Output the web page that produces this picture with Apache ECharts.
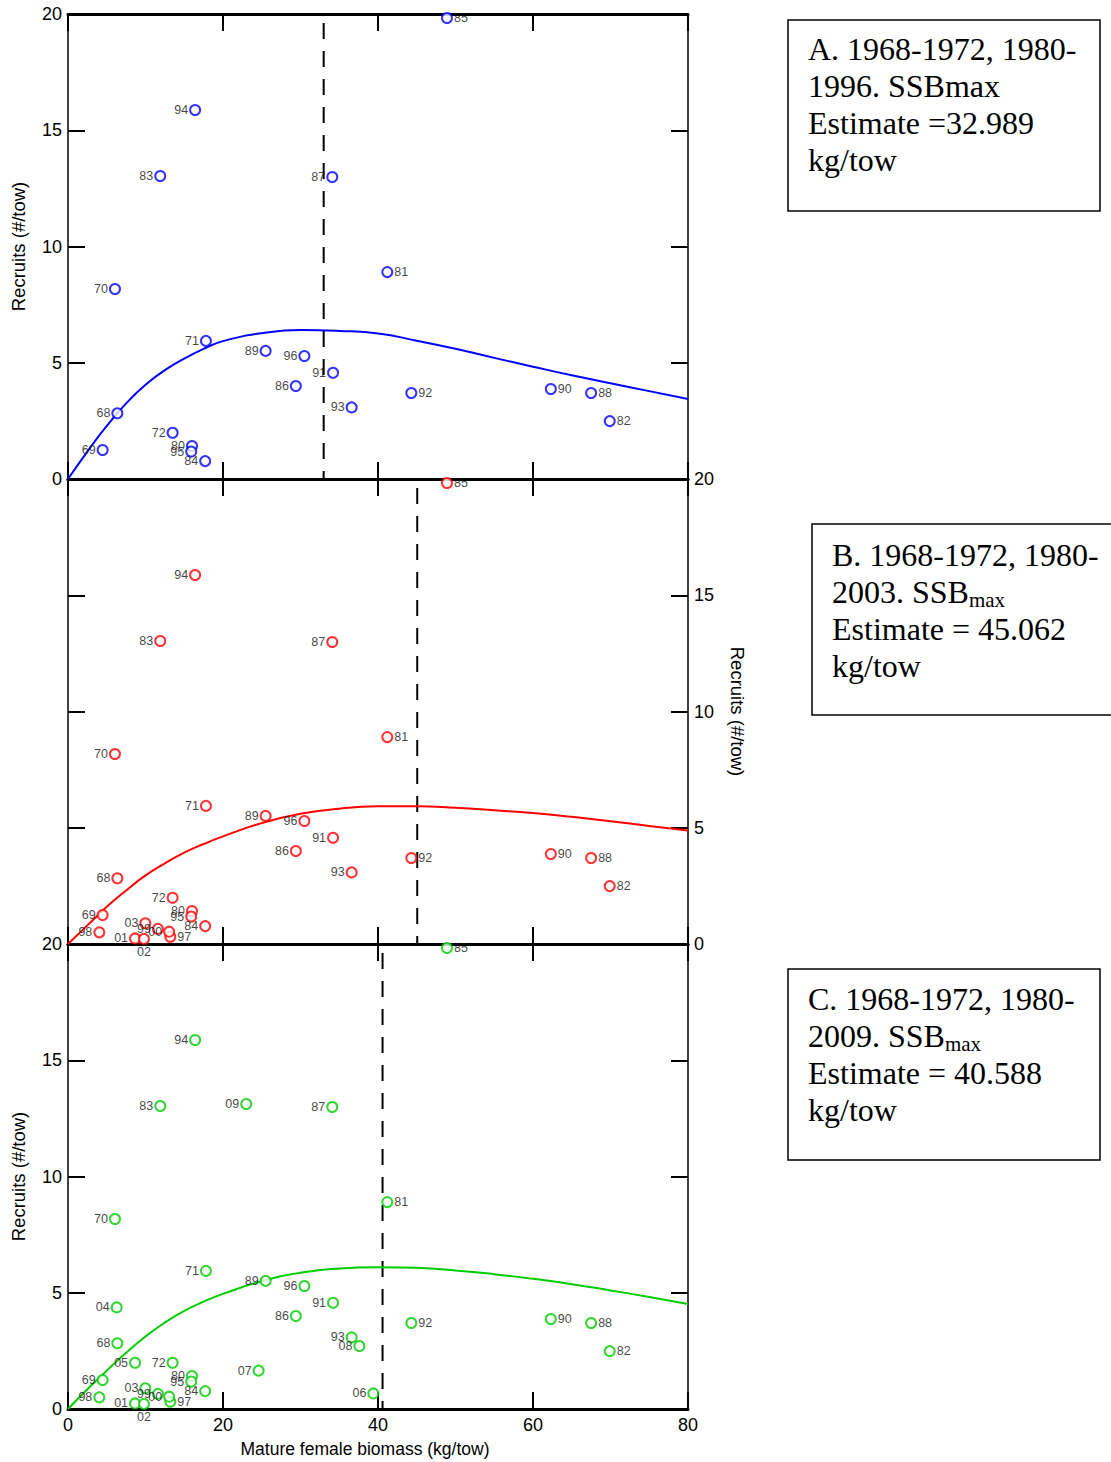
<!DOCTYPE html>
<html><head><meta charset="utf-8">
<script src="https://cdn.jsdelivr.net/npm/echarts@6/dist/echarts.min.js"></script>
<style>html,body{margin:0;padding:0;background:#fff}#c{width:1111px;height:1462px}</style>
</head><body><div id="c"></div>
<script>
// ---- data ----
const years = ['68','69','70','71','72','80','81','82','83','84','85','86','87','88','89','90','91','92','93','94','95','96','97','98','99','00','01','02','03','04','05','06','07','08','09'];
const ssb = [6.37,4.47,6.06,17.8,13.5,16.0,41.2,69.9,11.9,17.7,48.9,29.4,34.1,67.5,25.5,62.3,34.2,44.3,36.6,16.4,15.9,30.5,13.2,4.04,11.6,13.05,8.65,9.8,9.98,6.28,8.65,39.4,24.6,37.6,23.0];
const recruits = [2.83,1.25,8.17,5.94,1.99,1.42,8.90,2.49,13.03,0.77,19.83,4.00,12.99,3.70,5.51,3.87,4.57,3.70,3.08,15.87,1.18,5.29,0.31,0.50,0.65,0.53,0.24,0.22,0.89,4.37,1.99,0.67,1.65,2.71,13.12];
const panelLastYear = ['96','03','09'];
const ssbMax = [32.989, 45.062, 40.588];

const curveSsb = [0, 2.5, 5, 7.5, 10, 12.5, 15, 17.5, 20, 25, 30, 35, 40, 45, 50, 55, 60, 65, 70, 75, 80];
const curveA_rec = [0, 1.18, 2.28, 3.25, 4.05, 4.68, 5.18, 5.60, 5.93, 6.27, 6.41, 6.37, 6.26, 5.95, 5.60, 5.21, 4.83, 4.46, 4.12, 3.78, 3.44];
const curveB_rec = [0, 0.80, 1.60, 2.30, 2.95, 3.47, 3.93, 4.30, 4.63, 5.20, 5.60, 5.82, 5.92, 5.93, 5.86, 5.75, 5.63, 5.47, 5.28, 5.08, 4.88];
const curveC_rec = [0, 0.85, 1.65, 2.42, 3.12, 3.72, 4.22, 4.62, 4.95, 5.50, 5.86, 6.04, 6.10, 6.07, 5.96, 5.80, 5.60, 5.37, 5.10, 4.82, 4.52];

const xTicks = [0, 20, 40, 60, 80];
const yTicks = [0, 5, 10, 15, 20];
const xName = 'Mature female biomass (kg/tow)';
const yName = 'Recruits (#/tow)';
const boxLines = [
  ['A. 1968-1972, 1980-', '1996. SSBmax', 'Estimate =32.989', 'kg/tow'],
  ['B. 1968-1972, 1980-', '2003. SSB', 'Estimate = 45.062', 'kg/tow'],
  ['C. 1968-1972, 1980-', '2009. SSB', 'Estimate = 40.588', 'kg/tow']
];
const boxSub = ['', 'max', 'max'];

// ---- styling ----
const colors = ['#0000ff', '#ff0000', '#00cc00'];
const rightLabelYears = ['81','82','85','88','90','92','97'];
const bottomLabelYears = ['02'];
const SANS = 'Liberation Sans, Arial, sans-serif';
const SERIF = 'Liberation Serif, Times New Roman, serif';
const gridTops = [14, 479, 944];

const grids = gridTops.map(t => ({left: 68, top: t, width: 620, height: 465, outerBoundsMode: 'none'}));

function xAxis(g, pos, withLabels) {
  return {
    type: 'value', gridIndex: g, position: pos, min: xTicks[0], max: xTicks[xTicks.length-1], interval: xTicks[1]-xTicks[0],
    axisLine: {show: true, onZero: false, lineStyle: {color: '#000', width: 3}},
    axisTick: {show: true, inside: true, length: 17, lineStyle: {color: '#000', width: 2}},
    axisLabel: {show: withLabels, color: '#000', fontSize: 18, fontFamily: SANS, margin: 7, showMinLabel: true, showMaxLabel: true},
    splitLine: {show: false},
    name: withLabels ? xName : '', nameLocation: 'middle', nameGap: 31,
    nameTextStyle: {color: '#000', fontSize: 17.5, fontFamily: SANS, padding: [0, 26, 0, 0]}
  };
}
function yAxis(g, pos, withLabels) {
  return {
    type: 'value', gridIndex: g, position: pos, min: yTicks[0], max: yTicks[yTicks.length-1], interval: yTicks[1]-yTicks[0],
    axisLine: {show: true, onZero: false, lineStyle: {color: '#000', width: 1.5}},
    axisTick: {show: true, inside: true, length: 17, lineStyle: {color: '#000', width: 2}},
    axisLabel: {show: withLabels, color: '#000', fontSize: 18, fontFamily: SANS, margin: 6, showMinLabel: true, showMaxLabel: true},
    splitLine: {show: false},
    name: withLabels ? yName : '', nameLocation: 'middle', nameGap: 40,
    nameRotate: pos === 'left' ? 90 : -90,
    nameTextStyle: {color: '#000', fontSize: 18.5, fontFamily: SANS}
  };
}

const xAxes = [], yAxes = [];
for (let g = 0; g < 3; g++) {
  xAxes.push(xAxis(g, 'bottom', g === 2));
  xAxes.push(xAxis(g, 'top', false));
  yAxes.push(yAxis(g, 'left', g !== 1));
  yAxes.push(yAxis(g, 'right', g === 1));
}

const curves = [curveA_rec, curveB_rec, curveC_rec];
const series = [];
for (let g = 0; g < 3; g++) {
  const n = years.indexOf(panelLastYear[g]) + 1;
  const pts = [];
  for (let i = 0; i < n; i++) {
    const yr = years[i];
    let pos = 'left', offset = [0, 0];
    if (rightLabelYears.includes(yr)) pos = 'right';
    if (bottomLabelYears.includes(yr)) { pos = 'bottom'; offset = [14, 0]; }
    pts.push({name: yr, value: [ssb[i], recruits[i]], label: {position: pos, offset: offset}});
  }
  series.push({
    type: 'scatter', xAxisIndex: 2*g, yAxisIndex: 2*g, data: pts,
    symbol: 'emptyCircle', symbolSize: 10,
    itemStyle: {color: colors[g], borderColor: colors[g], borderWidth: 1.2},
    label: {show: true, formatter: p => p.name, distance: 1, fontSize: 12.5, fontFamily: SANS, color: '#111'},
    labelLayout: {hideOverlap: false},
    z: 3, silent: true
  });
  series.push({
    type: 'line', xAxisIndex: 2*g, yAxisIndex: 2*g,
    data: curveSsb.map((x, i) => [x, curves[g][i]]),
    smooth: 0.5, showSymbol: false, symbol: 'none',
    lineStyle: {color: colors[g], width: 2}, z: 2, silent: true
  });
  series.push({
    type: 'line', xAxisIndex: 2*g, yAxisIndex: 2*g,
    data: [[ssbMax[g], yTicks[yTicks.length-1]], [ssbMax[g], yTicks[0]]],
    showSymbol: false, symbol: 'none',
    lineStyle: {color: '#000', width: 2, type: [16, 12], dashOffset: 19}, z: 1, silent: true
  });
}

const boxRects = [[788, 20, 312], [812, 524, 330], [788, 969, 312]];
const textPos = [[808, 30.5], [832, 536.5], [808, 980.5]];
const graphic = [];
for (let b = 0; b < 3; b++) {
  graphic.push({type: 'rect', shape: {x: boxRects[b][0], y: boxRects[b][1], width: boxRects[b][2], height: 191},
    style: {fill: '#fff', stroke: '#000', lineWidth: 1.5}, z: 10});
  const L = boxLines[b];
  const line2 = boxSub[b] ? '{t|' + L[1] + '}{s|' + boxSub[b] + '}' : '{t|' + L[1] + '}';
  graphic.push({type: 'text', x: textPos[b][0], y: textPos[b][1], z: 11,
    style: {
      text: '{t|' + L[0] + '}\n' + line2 + '\n{t|' + L[2] + '}\n{t|' + L[3] + '}',
      verticalAlign: 'top', align: 'left',
      rich: {
        t: {fontFamily: SERIF, fontSize: 32, lineHeight: 37, fill: '#000', color: '#000'},
        s: {fontFamily: SERIF, fontSize: 21, lineHeight: 22, verticalAlign: 'bottom', fill: '#000', color: '#000'}
      }
    }});
}

const chart = echarts.init(document.getElementById('c'), null, {renderer: 'svg', width: 1111, height: 1462});
chart.setOption({
  animation: false,
  backgroundColor: '#fff',
  grid: grids,
  xAxis: xAxes,
  yAxis: yAxes,
  series: series,
  graphic: graphic
});
</script></body></html>
